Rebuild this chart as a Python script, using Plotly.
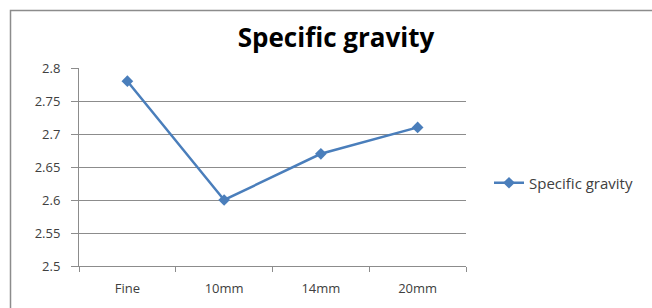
import plotly.graph_objects as go

categories = ["Fine", "10mm", "14mm", "20mm"]
values = [2.78, 2.60, 2.67, 2.71]
series_name = "Specific gravity"
y_ticks = [2.5, 2.55, 2.6, 2.65, 2.7, 2.75, 2.8]

W, H = 652, 308
L, R, T, B = 79, 186, 68, 42
pw, ph = W - L - R, H - T - B

def px_x(x):
    return (x - L) / pw

def px_y(y):
    return (H - B - y) / ph

fig = go.Figure()
fig.add_trace(go.Scatter(
    x=categories, y=values, name=series_name, mode="lines+markers",
    line=dict(color="#4A7EBB", width=2.5),
    marker=dict(symbol="diamond", size=9, color="#4A7EBB"),
))

font_family = "Open Sans, Liberation Sans, sans-serif"
fig.update_layout(
    width=W, height=H,
    margin=dict(l=L, r=R, t=T, b=B, autoexpand=False),
    paper_bgcolor="white", plot_bgcolor="white",
    font=dict(family=font_family, size=13, color="#404040"),
    title=dict(text="<b>Specific gravity</b>", x=336 / W, xanchor="center",
               xref="container", yref="container",
               y=1 - 38 / H, yanchor="middle",
               font=dict(size=26, color="black", family=font_family)),
    showlegend=True,
    legend=dict(xref="container", yref="container",
                x=489 / W, y=1 - 183 / H, xanchor="left", yanchor="middle",
                font=dict(size=15, color="#404040"), bgcolor="rgba(0,0,0,0)"),
    xaxis=dict(type="category", range=[-0.5, 3.5], showgrid=False,
               automargin=False,
               showline=True, linecolor="#8c8c8c", linewidth=1,
               ticks="outside", tickson="boundaries", ticklen=5,
               tickcolor="#8c8c8c", ticklabelstandoff=10,
               tickfont=dict(size=13, color="#404040")),
    yaxis=dict(range=[2.5, 2.8], tickvals=y_ticks,
               ticktext=[f"{v:g}" for v in y_ticks],
               automargin=False,
               showgrid=True, gridcolor="#8c8c8c", gridwidth=1,
               showline=True, linecolor="#8c8c8c", linewidth=1,
               ticks="outside", ticklen=7, tickcolor="#8c8c8c",
               ticklabelstandoff=8, zeroline=False,
               tickfont=dict(size=13, color="#404040")),
    shapes=[dict(type="rect", xref="paper", yref="paper",
                 x0=px_x(10.5), x1=px_x(665), y0=px_y(320), y1=px_y(10.5),
                 line=dict(color="#8c8c8c", width=1.5), layer="below")],
)

fig.write_html("out.html", config={"displayModeBar": False},
               post_script="document.body.style.margin='0';")
